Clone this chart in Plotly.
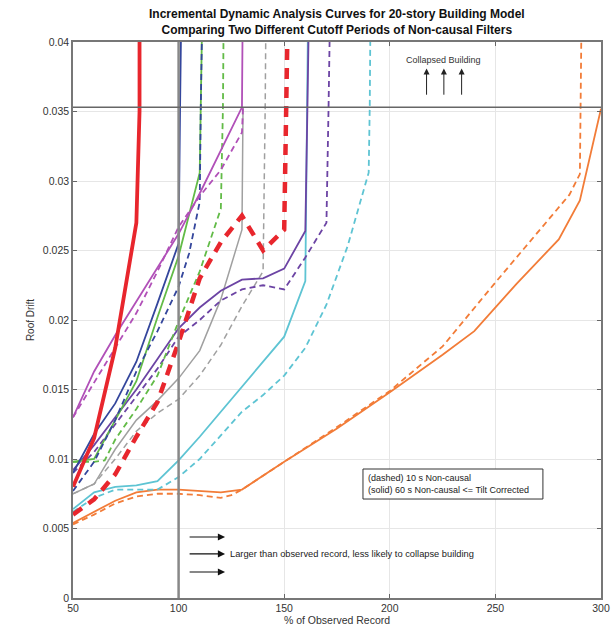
import plotly.graph_objects as go

# ---------------- data ----------------
red_s_x = [50, 60, 70, 80, 81.5, 81.5]
red_s_y = [0.008, 0.0115, 0.018, 0.027, 0.035, 0.045]
red_d_x = [50, 60, 70, 80, 90, 100, 110, 120, 130, 140, 150, 151, 152]
red_d_y = [0.006, 0.0071, 0.0089, 0.0116, 0.0141, 0.0184, 0.0230, 0.0256, 0.0275, 0.0250, 0.0265, 0.035, 0.045]

blue_s_x = [50, 60, 70, 80, 90, 100, 100.7, 101.5]
blue_s_y = [0.009, 0.0118, 0.0140, 0.0170, 0.0212, 0.0255, 0.0353, 0.045]
blue_d_x = [50, 60, 70, 80, 90, 100, 105, 110, 110.5, 111.5]
blue_d_y = [0.0077, 0.0098, 0.0128, 0.0163, 0.0192, 0.0224, 0.0248, 0.0285, 0.0353, 0.045]

green_s_x = [50, 60, 70, 80, 90, 100, 110, 110.5, 111.5]
green_s_y = [0.0098, 0.0100, 0.0128, 0.0156, 0.0202, 0.0246, 0.0306, 0.0353, 0.045]
green_d_x = [50, 60, 65, 70, 80, 90, 100, 110, 120, 121, 121.5]
green_d_y = [0.0098, 0.0098, 0.0099, 0.0114, 0.0136, 0.0160, 0.0199, 0.0235, 0.0280, 0.0353, 0.045]

mag_s_x = [50, 60, 70, 80, 90, 100, 110, 120, 130, 130.5]
mag_s_y = [0.013, 0.0163, 0.0189, 0.0213, 0.0237, 0.0262, 0.0291, 0.0322, 0.0353, 0.045]
mag_d_x = [50, 60, 70, 80, 90, 100, 110, 120, 130, 130.5]
mag_d_y = [0.013, 0.0155, 0.0180, 0.0205, 0.0235, 0.0267, 0.0289, 0.0308, 0.0335, 0.0353]

grey_s_x = [50, 60, 70, 80, 90, 100, 110, 120, 130, 130.5]
grey_s_y = [0.0075, 0.0082, 0.0107, 0.0128, 0.0142, 0.0158, 0.0178, 0.0215, 0.0265, 0.0353]
grey_d_x = [50, 60, 70, 80, 90, 100, 110, 120, 130, 140, 141, 141.5]
grey_d_y = [0.0075, 0.0082, 0.0100, 0.0120, 0.0133, 0.0143, 0.0160, 0.0182, 0.0210, 0.0235, 0.0353, 0.045]

purp_s_x = [50, 60, 70, 80, 90, 100, 110, 120, 130, 140, 150, 160, 161, 162]
purp_s_y = [0.0092, 0.0110, 0.0130, 0.0150, 0.0172, 0.0194, 0.0209, 0.0221, 0.0229, 0.0230, 0.0237, 0.0264, 0.0353, 0.045]
purp_d_x = [50, 60, 70, 80, 90, 100, 110, 120, 130, 140, 150, 160, 170, 171, 172]
purp_d_y = [0.0090, 0.0105, 0.0125, 0.0145, 0.0165, 0.0188, 0.0200, 0.0214, 0.0222, 0.0225, 0.0222, 0.0245, 0.0270, 0.0353, 0.045]

cyan_s_x = [50, 60, 70, 80, 90, 100, 110, 120, 130, 140, 150, 160, 160.5, 161.5]
cyan_s_y = [0.0064, 0.0076, 0.0080, 0.0081, 0.0084, 0.0099, 0.0116, 0.0134, 0.0152, 0.0170, 0.0188, 0.0228, 0.0353, 0.045]
cyan_d_x = [50, 60, 70, 80, 90, 100, 110, 120, 130, 140, 150, 160, 170, 180, 190, 190.5, 191]
cyan_d_y = [0.0062, 0.0072, 0.0078, 0.0078, 0.0078, 0.0087, 0.0100, 0.0117, 0.0134, 0.0146, 0.0160, 0.0180, 0.0211, 0.0253, 0.0306, 0.0353, 0.045]

orange_s_x = [50, 60, 70, 80, 90, 100, 110, 120, 130, 150, 175, 200, 225, 240, 260, 280, 290, 300]
orange_s_y = [0.0054, 0.0062, 0.0070, 0.0076, 0.0078, 0.0078, 0.0077, 0.0076, 0.0078, 0.0098, 0.0122, 0.0148, 0.0175, 0.0192, 0.0226, 0.0258, 0.0286, 0.0352]
orange_d_x = [50, 60, 70, 80, 90, 100, 110, 120, 125, 130, 150, 175, 200, 225, 250, 270, 285, 290, 290.5, 291]
orange_d_y = [0.0053, 0.0060, 0.0068, 0.0073, 0.0075, 0.0075, 0.0074, 0.0072, 0.0074, 0.0078, 0.0098, 0.0123, 0.0149, 0.0181, 0.0227, 0.0263, 0.0290, 0.0305, 0.0353, 0.045]

collapse_level = 0.0353
observed_level = 100

x_ticks = [50, 100, 150, 200, 250, 300]
y_ticks = [0, 0.005, 0.01, 0.015, 0.02, 0.025, 0.03, 0.035, 0.04]
y_tick_text = ["0", "0.005", "0.01", "0.015", "0.02", "0.025", "0.03", "0.035", "0.04"]

title_lines = ["Incremental Dynamic Analysis Curves for 20-story Building Model",
               "Comparing Two Different Cutoff Periods of Non-causal Filters"]

# ---------------- figure ----------------
RED = "#e8262d"
BLUE = "#34469c"
GREEN = "#62bb47"
MAG = "#b150b8"
GREY = "#a0a0a0"
PURP = "#6c44a4"
CYAN = "#5ec4d3"
ORANGE = "#f27c38"

fig = go.Figure()

def add(x, y, color, width, dash=None):
    fig.add_trace(go.Scatter(x=x, y=y, mode="lines", showlegend=False, hoverinfo="skip",
                             line=dict(color=color, width=width, dash=dash)))

D = "6px,4px"
add(orange_d_x, orange_d_y, ORANGE, 1.8, D)
add(orange_s_x, orange_s_y, ORANGE, 1.8)
add(cyan_d_x, cyan_d_y, CYAN, 1.8, D)
add(cyan_s_x, cyan_s_y, CYAN, 1.8)
add(grey_d_x, grey_d_y, GREY, 1.5, D)
add(grey_s_x, grey_s_y, GREY, 1.5)
add(purp_d_x, purp_d_y, PURP, 1.8, D)
add(purp_s_x, purp_s_y, PURP, 1.8)
add(green_d_x, green_d_y, GREEN, 1.8, D)
add(green_s_x, green_s_y, GREEN, 1.8)
add(blue_d_x, blue_d_y, BLUE, 1.8, D)
add(blue_s_x, blue_s_y, BLUE, 1.8)
add(mag_d_x, mag_d_y, MAG, 1.8, D)
add(mag_s_x, mag_s_y, MAG, 1.8)
add(red_d_x, red_d_y, RED, 4.5, "11px,8px")
add(red_s_x, red_s_y, RED, 3.8)

FONT = "Liberation Sans, Arial, sans-serif"

shapes = [
    dict(type="line", xref="x", yref="paper", x0=observed_level, x1=observed_level, y0=0, y1=1,
         line=dict(color="#888888", width=2.5), layer="above"),
    dict(type="line", xref="paper", yref="y", x0=0, x1=1, y0=collapse_level, y1=collapse_level,
         line=dict(color="#666666", width=1.5), layer="above"),
    dict(type="rect", xref="x", yref="y", x0=187.3, x1=272.5, y0=0.00712, y1=0.00928,
         line=dict(color="#333333", width=1), fillcolor="white", layer="above"),
]

annotations = []
annotations.append(dict(xref="x", yref="y", x=188.5, y=0.0082, xanchor="left", yanchor="middle",
                        text="(dashed) 10 s Non-causal<br>(solid) 60 s Non-causal &lt;= Tilt Corrected",
                        align="left", showarrow=False, font=dict(family=FONT, size=9, color="#222")))
annotations.append(dict(xref="x", yref="y", x=225.6, y=0.0387, text="Collapsed Building",
                        showarrow=False, font=dict(family=FONT, size=9, color="#333")))
for ax_ in [217.4, 225.6, 234.0]:
    annotations.append(dict(xref="x", yref="y", axref="x", ayref="y", x=ax_, y=0.0381, ax=ax_, ay=0.0361,
                            text="", showarrow=True, arrowhead=2, arrowsize=1.2, arrowwidth=1,
                            arrowcolor="#222"))
for yy in [0.00439, 0.00317, 0.00187]:
    annotations.append(dict(xref="x", yref="y", axref="x", ayref="y", x=122, y=yy, ax=104.5, ay=yy,
                            text="", showarrow=True, arrowhead=2, arrowsize=1.2, arrowwidth=1.2,
                            arrowcolor="#111"))
annotations.append(dict(xref="x", yref="y", x=123.4, y=0.00317, xanchor="left", yanchor="middle",
                        text="Larger than observed record, less likely to collapse building",
                        showarrow=False, font=dict(family=FONT, size=9.3, color="#222")))
annotations.append(dict(xref="paper", yref="paper", x=0.5, y=1, yshift=3, xanchor="center", yanchor="bottom",
                        text="<b>" + title_lines[0] + "<br>" + title_lines[1] + "</b>",
                        showarrow=False, font=dict(family=FONT, size=12, color="#111")))

fig.update_layout(
    width=616, height=630,
    margin=dict(l=73, r=15, t=42, b=32, autoexpand=False),
    paper_bgcolor="white", plot_bgcolor="white",
    shapes=shapes, annotations=annotations,
    font=dict(family=FONT, size=10, color="#333"),
    xaxis=dict(range=[50, 300], tickvals=x_ticks, ticks="inside", ticklen=4, tickcolor="#666",
               showgrid=True, gridcolor="#e6e6e6", gridwidth=1, zeroline=False, automargin=False,
               showline=True, linecolor="#777", linewidth=1.5, mirror="ticks",
               title=dict(text="% of Observed Record", standoff=2, font=dict(size=10.5)),
               tickfont=dict(size=10.5)),
    yaxis=dict(range=[0, 0.04], tickvals=y_ticks, ticktext=y_tick_text, ticks="inside", ticklen=4,
               tickcolor="#666", showgrid=True, gridcolor="#e6e6e6", gridwidth=1, zeroline=False,
               showline=True, linecolor="#777", linewidth=1.5, mirror="ticks", automargin=False,
               title=dict(text="Roof Drift", standoff=6, font=dict(size=10)),
               tickfont=dict(size=10.5)),
)

fig.write_html("out.html")
